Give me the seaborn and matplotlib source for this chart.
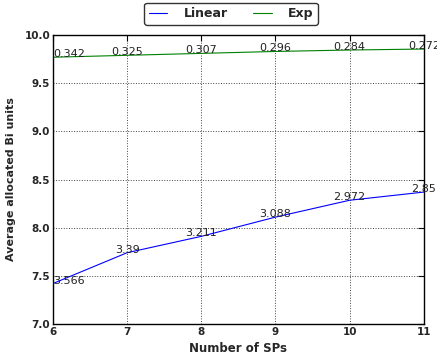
import matplotlib
matplotlib.use("Agg")
import matplotlib.pyplot as plt
import seaborn as sns
import pandas as pd

sps = [6, 7, 8, 9, 10, 11]
linear_vals = [7.42, 7.74, 7.91, 8.11, 8.285, 8.37]
exp_vals = [9.77, 9.79, 9.81, 9.83, 9.845, 9.855]
linear_labels = ["3.566", "3.39", "3.211", "3.088", "2.972", "2.85"]
exp_labels = ["0.342", "0.325", "0.307", "0.296", "0.284", "0.272"]
yticks = [7.0, 7.5, 8.0, 8.5, 9.0, 9.5, 10.0]

sns.set_style("white")
plt.rcParams['font.family'] = ['DejaVu Sans']

df = pd.DataFrame({
    "SPs": sps * 2,
    "value": linear_vals + exp_vals,
    "series": ["Linear"] * len(sps) + ["Exp"] * len(sps),
})

fig = plt.figure(figsize=(4.37, 3.58), dpi=100)
ax = fig.add_axes([0.121, 0.095, 0.849, 0.807])
sns.lineplot(data=df, x="SPs", y="value", hue="series",
             palette={"Linear": "#0000ff", "Exp": "#008000"},
             linewidth=0.8, ax=ax)

for x, y, t in zip(sps, linear_vals, linear_labels):
    ax.text(x, y, t, ha="left" if x == sps[0] else "center", va="baseline",
            fontsize=8, color="#222222")
for x, y, t in zip(sps, exp_vals, exp_labels):
    ax.text(x, y, t, ha="left" if x == sps[0] else "center", va="baseline",
            fontsize=8, color="#222222")

ax.set_xlim(6, 11)
ax.set_ylim(7.0, 10.0)
ax.set_yticks(yticks)
ax.set_yticklabels([f"{v:.1f}" for v in yticks])
ax.set_xticks(sps)
ax.grid(True, linestyle=":", color="#444444", linewidth=0.7)
for s in ax.spines.values():
    s.set_color("black")
    s.set_linewidth(1.0)
ax.tick_params(axis="both", labelsize=7.5, pad=2, direction="in", length=4,
               color="black", top=True, right=True)
for lab in ax.get_xticklabels() + ax.get_yticklabels():
    lab.set_fontweight("bold")
ax.set_xlabel("Number of SPs", fontsize=8.5, fontweight="bold", labelpad=4)
ax.set_ylabel("Average allocated Bi units", fontsize=8, fontweight="bold", labelpad=6)

h, l = ax.get_legend_handles_labels()
leg = ax.legend(h, l, loc="lower center", bbox_to_anchor=(0.48, 1.015), ncol=2,
                frameon=True, fancybox=True, prop={"weight": "bold", "size": 9},
                handlelength=1.5, columnspacing=2.0, borderpad=0.35, handletextpad=1.3)
leg.get_frame().set_edgecolor("black")
leg.get_frame().set_linewidth(1.0)

fig.savefig("out.png", dpi=100)
